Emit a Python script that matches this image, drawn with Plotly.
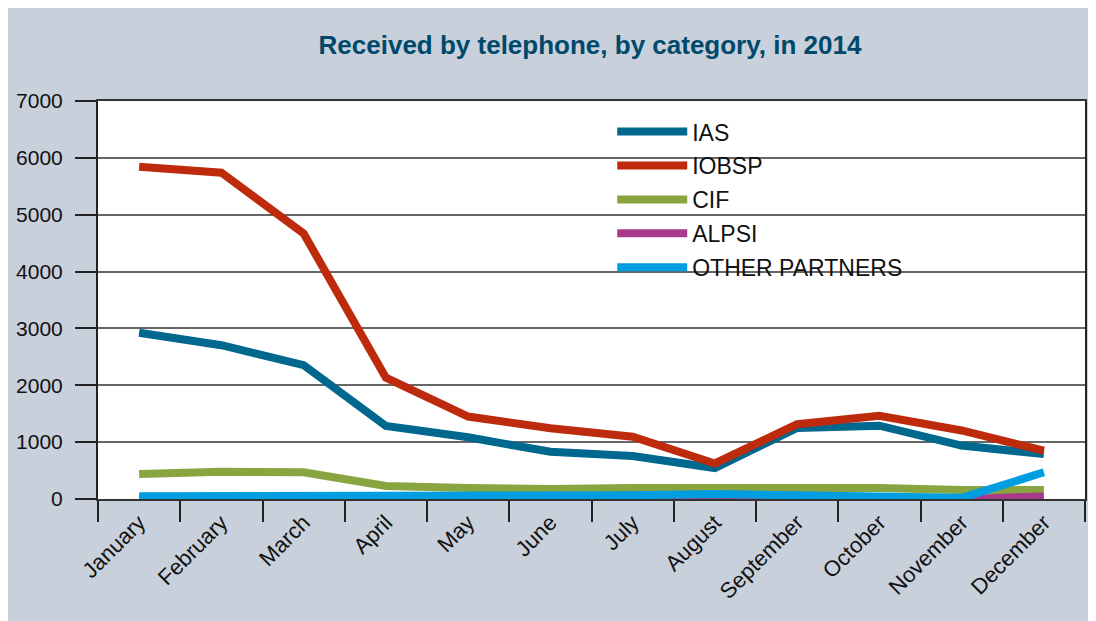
# Line chart of calls received by telephone per category, 2014.
import plotly.graph_objects as go

months = ["January", "February", "March", "April", "May", "June",
          "July", "August", "September", "October", "November", "December"]

ias = [2925, 2705, 2355, 1285, 1085, 830, 755, 545, 1250, 1290, 940, 790]
iobsp = [5845, 5740, 4670, 2135, 1450, 1245, 1095, 625, 1315, 1465, 1205, 850]
cif = [440, 480, 470, 230, 195, 175, 195, 205, 215, 195, 160, 160]
alpsi = [0, 0, 0, 0, 0, 15, 20, 25, 25, 20, 0, 45]
other = [50, 50, 50, 50, 50, 55, 65, 88, 76, 40, 20, 470]

series_names = ["IAS", "IOBSP", "CIF", "ALPSI", "OTHER PARTNERS"]
series_values = [ias, iobsp, cif, alpsi, other]
series_colours = ["#00678f", "#bd2b0c", "#89a540", "#a83a8c", "#009ee0"]

bg = "#c8d0dc"
narrow = "Liberation Sans Narrow, Liberation Sans, Arial, sans-serif"

fig = go.Figure()
for i in range(len(series_names)):
    fig.add_trace(go.Scatter(x=months, y=series_values[i], mode="lines",
                             name=series_names[i], legendgroup=series_names[i],
                             line=dict(color=series_colours[i], width=8)))

fig.update_layout(
    width=1096, height=621,
    margin=dict(l=90, r=19, t=93, b=130, autoexpand=False),
    paper_bgcolor=bg, plot_bgcolor="white",
    title=dict(text="<b>Received by telephone, by category, in 2014</b>",
               x=0.531, xanchor="center", y=0.940, yanchor="middle",
               font=dict(family=narrow, size=26, color="#00496a")),
    legend=dict(x=0.521, y=0.977, xanchor="left", yanchor="top",
                bgcolor="rgba(0,0,0,0)", itemwidth=70,
                traceorder="grouped", tracegroupgap=1,
                font=dict(family="Liberation Sans, Arial, sans-serif", size=23, color="#111")),
    showlegend=True,
)

fig.update_xaxes(type="category", range=[-0.5, 11.5], tickson="boundaries",
                 ticks="outside", ticklen=21, tickwidth=2, tickcolor="#222", tickangle=-45,
                 showline=True, linecolor="#333", linewidth=2, mirror=True,
                 showgrid=False, automargin=False,
                 tickfont=dict(family=narrow, size=22, color="#111"))
fig.update_yaxes(range=[0, 7000], dtick=1000, ticks="outside", ticklen=21,
                 tickwidth=2, tickcolor="#222", ticklabelstandoff=8,
                 showline=True, linecolor="#222", linewidth=2, mirror=True,
                 showgrid=True, gridcolor="#666", gridwidth=1.5, zeroline=False,
                 automargin=False,
                 tickfont=dict(family=narrow, size=21, color="#111"))

fig.write_html("out.html")
